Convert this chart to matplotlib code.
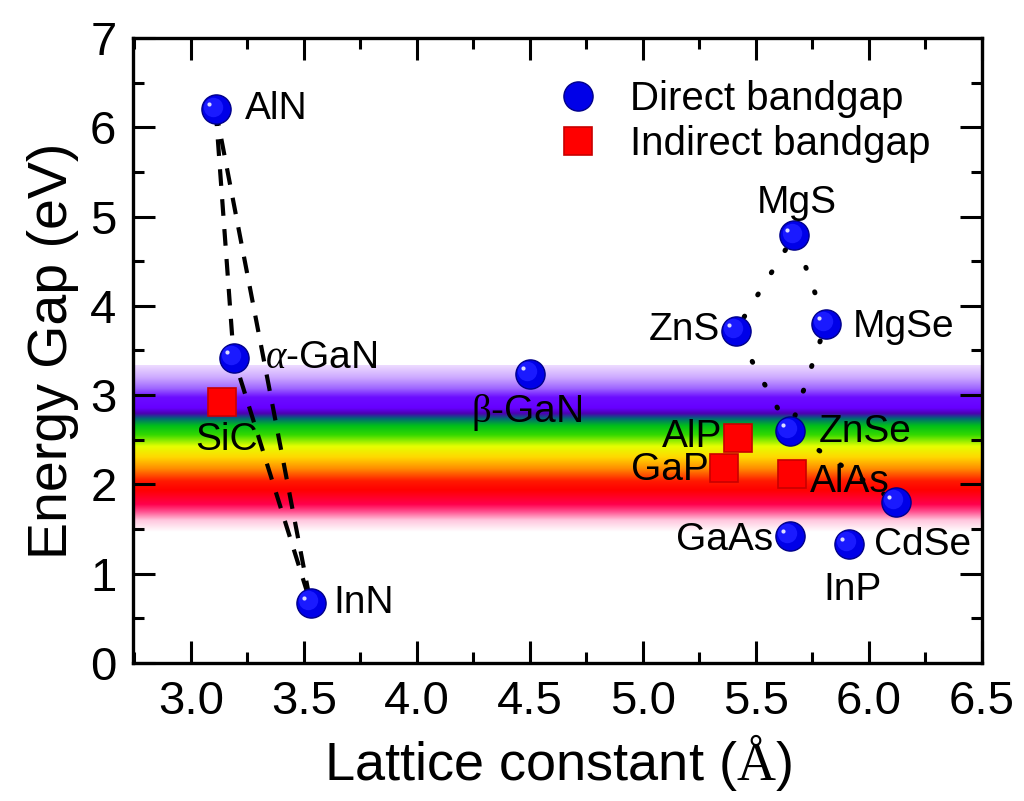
import numpy as np
import matplotlib
matplotlib.use("Agg")
import matplotlib.pyplot as plt
from matplotlib.transforms import offset_copy
from matplotlib.ticker import MultipleLocator

plt.rcParams['font.family'] = ['Liberation Sans', 'DejaVu Sans']
plt.rcParams['mathtext.fontset'] = 'custom'
plt.rcParams['mathtext.rm'] = 'Liberation Serif'
plt.rcParams['mathtext.it'] = 'Liberation Serif:italic'

# direct bandgap materials (lattice constant in A, gap in eV)
direct_names = ['AlN', 'a-GaN', 'InN', 'b-GaN', 'MgS', 'ZnS', 'MgSe',
                'ZnSe', 'GaAs', 'InP', 'CdSe']
direct_a = [3.11, 3.19, 3.53, 4.50, 5.67, 5.41, 5.81, 5.65, 5.65, 5.91, 6.12]
direct_eg = [6.20, 3.42, 0.67, 3.24, 4.79, 3.72, 3.80, 2.60, 1.42, 1.33, 1.80]

# indirect bandgap materials
indirect_names = ['SiC', 'AlP', 'GaP', 'AlAs']
indirect_a = [3.14, 5.42, 5.36, 5.66]
indirect_eg = [2.92, 2.52, 2.18, 2.12]

# label text and anchor (x, y, ha)
labels = ['AlN', r'$\alpha$-GaN', 'SiC', 'InN', r'$\mathrm{\beta}$-GaN', 'MgS', 'ZnS',
          'MgSe', 'ZnSe', 'AlP', 'GaP', 'AlAs', 'GaAs', 'CdSe', 'InP']
label_x = [3.24, 3.33, 3.02, 3.63, 4.24, 5.68, 5.34, 5.93, 5.78, 5.35, 5.29,
           5.74, 5.575, 6.02, 5.80]
label_y = [6.21, 3.42, 2.50, 0.67, 2.80, 5.15, 3.73, 3.76, 2.59, 2.53, 2.16,
           2.03, 1.38, 1.32, 0.82]
label_ha = ['left', 'left', 'left', 'left', 'left', 'center', 'right', 'left',
            'left', 'right', 'right', 'left', 'right', 'left', 'left']

# alloy lines
nitride1_a = [3.11, 3.19, 3.53]
nitride1_eg = [6.20, 3.42, 0.67]
nitride2_a = [3.11, 3.53]
nitride2_eg = [6.20, 0.67]
ii_vi_a = [5.65, 5.41, 5.67, 5.81, 5.65, 6.12]
ii_vi_eg = [2.60, 3.72, 4.79, 3.80, 2.60, 1.80]

# visible spectrum band: energy stops and colours
band_e = [1.47, 1.60, 1.70, 1.78, 1.94, 2.04, 2.18, 2.31, 2.43, 2.56, 2.66,
          2.74, 2.80, 2.86, 2.98, 3.08, 3.20, 3.34]
band_rgb = [(1.0, 1.0, 1.0), (1.0, 0.78, 0.87), (1.0, 0.3, 0.55), (1.0, 0.0, 0.3),
            (1.0, 0.0, 0.0), (1.0, 0.1, 0.0), (1.0, 0.55, 0.0), (1.0, 0.85, 0.0),
            (0.9, 1.0, 0.0), (0.2, 0.85, 0.0), (0.0, 0.75, 0.1), (0.0, 0.42, 0.45),
            (0.3, 0.0, 0.7), (0.4, 0.0, 1.0), (0.42, 0.05, 1.0), (0.62, 0.4, 1.0),
            (0.8, 0.66, 1.0), (0.93, 0.86, 1.0)]

fig = plt.figure(figsize=(10.24, 8.01), dpi=100)
ax = fig.add_axes([0.130, 0.1723, 0.829, 0.7803])

xlim = (2.745, 6.5)
ylim = (0, 7)

ee = np.linspace(band_e[0], band_e[-1], 400)
img = np.stack([np.interp(ee, band_e, [c[i] for c in band_rgb]) for i in range(3)], axis=-1)
img = img[:, None, :]
ax.imshow(img, extent=[xlim[0], xlim[1], band_e[0], band_e[-1]], origin='lower',
          aspect='auto', zorder=0, interpolation='bilinear')

ax.plot(nitride1_a, nitride1_eg, color='black', lw=3.0, dashes=(4, 3.2), zorder=2)
ax.plot(nitride2_a, nitride2_eg, color='black', lw=3.0, dashes=(4, 3.2), zorder=2)
ax.plot(ii_vi_a, ii_vi_eg, color='black', lw=3.6, dashes=(0.2, 5.0),
        dash_capstyle='round', zorder=2)

ax.plot(direct_a, direct_eg, 'o', ms=21, color='#0000e8', mec='#00008a', mew=1.0,
        zorder=4, label='Direct bandgap')
ax.plot(direct_a, direct_eg, 'o', ms=14, color='#1a1aff', mew=0, zorder=4.1,
        transform=offset_copy(ax.transData, fig=fig, x=-2, y=2, units='points'))
ax.plot(direct_a, direct_eg, 'o', ms=3, color='white', alpha=0.85, mew=0, zorder=4.2,
        transform=offset_copy(ax.transData, fig=fig, x=-5, y=4, units='points'))
ax.plot(indirect_a, indirect_eg, 's', ms=20, color='#ff0000', mec='#c80000', mew=1.2,
        zorder=4, label='Indirect bandgap')

for t, x, y, ha in zip(labels, label_x, label_y, label_ha):
    ax.text(x, y, t, fontsize=28, ha=ha, va='center', zorder=5)

ax.legend(loc='upper left', bbox_to_anchor=(0.462, 0.978), frameon=False, fontsize=29,
          handletextpad=0.7, labelspacing=0.18, borderaxespad=0.3, handlelength=1.2)

ax.set_xlim(*xlim)
ax.set_ylim(*ylim)
ax.xaxis.set_major_locator(MultipleLocator(0.5))
ax.xaxis.set_minor_locator(MultipleLocator(0.25))
ax.yaxis.set_major_locator(MultipleLocator(1))
ax.yaxis.set_minor_locator(MultipleLocator(0.5))
ax.tick_params(which='both', direction='in', top=True, right=True, width=2.2,
               labelsize=34, pad=12)
ax.tick_params(which='major', length=16)
ax.tick_params(which='minor', length=8)
for s in ax.spines.values():
    s.set_linewidth(2.4)

ax.set_xlabel(r'Lattice constant ($\mathrm{\AA}$)', fontsize=39, labelpad=6)
ax.set_ylabel('Energy Gap (eV)', fontsize=40, labelpad=8)

fig.savefig('out.png', dpi=100)
